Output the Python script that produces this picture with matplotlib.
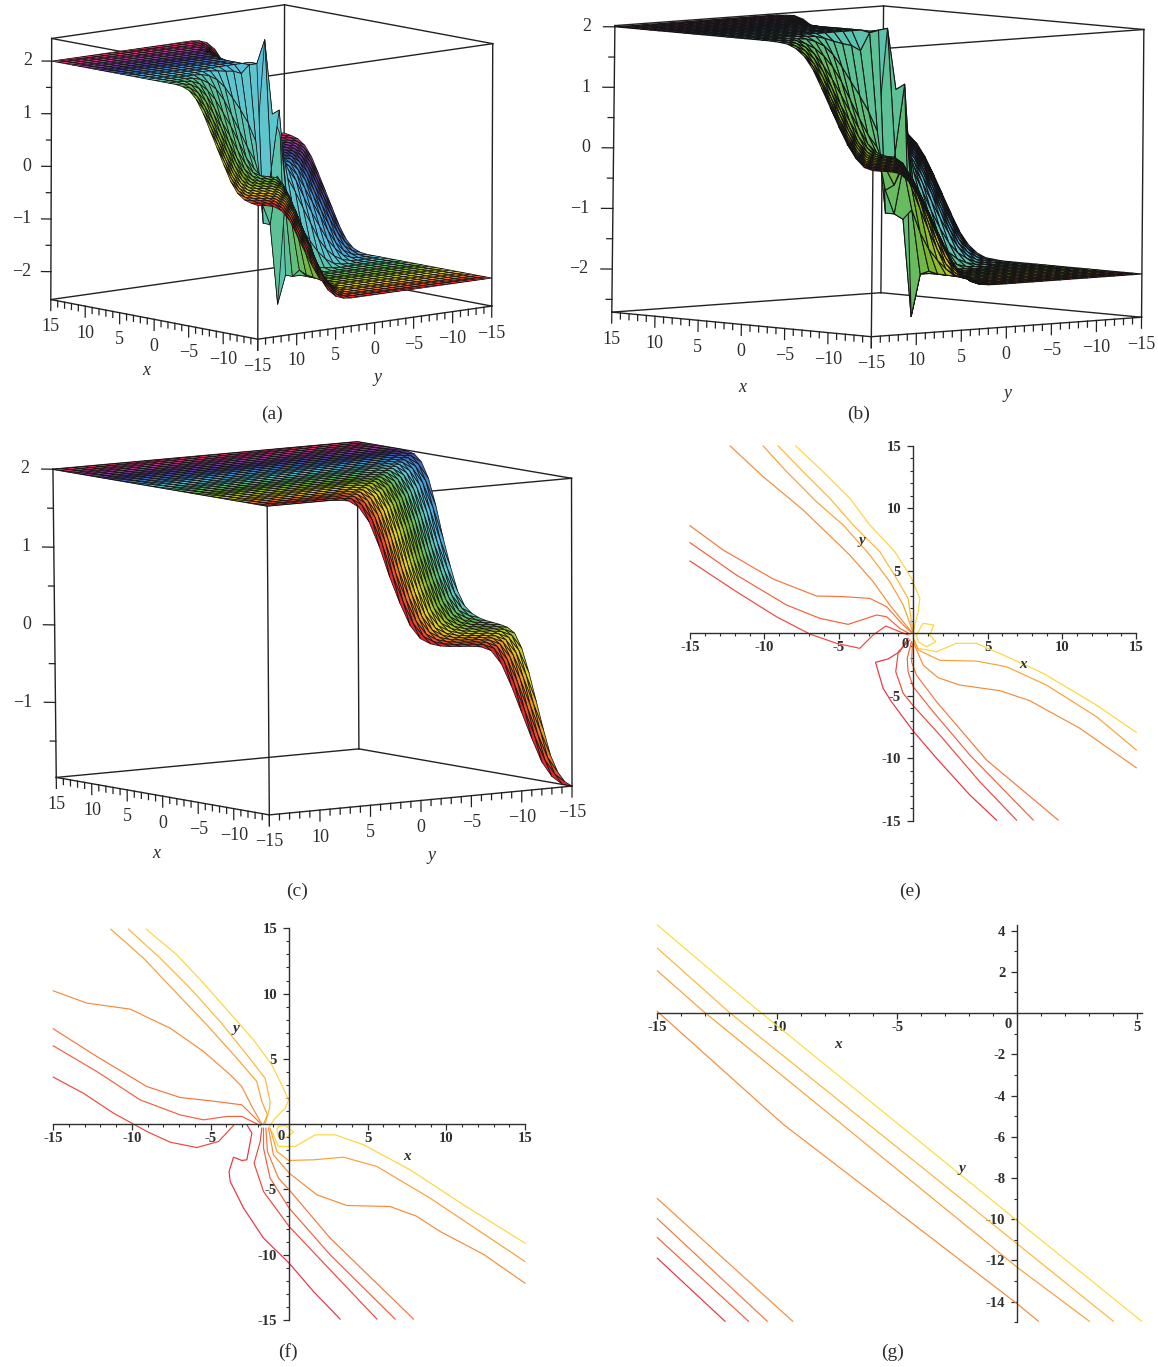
import numpy as np
import matplotlib
matplotlib.use("Agg")
import matplotlib.pyplot as plt
from matplotlib.colors import LinearSegmentedColormap

plt.rcParams['font.family'] = ['Liberation Serif', 'DejaVu Sans']
W, H = 1158, 1367
INK = '#2e2e2e'

# ---------- surface data ----------
grid_x = list(range(-15, 16))
grid_y = list(range(-15, 16))

# height against x+y, far from the singular point
a_s = [-30,-12,-11,-10,-9,-8,-7,-6,-5,-4,-3,-2,-1,0,1,2,3,4,5,6,7,8,9,10,11,12,30]
a_z = [-2.0,-2.0,-1.98,-1.92,-1.78,-1.55,-1.25,-.95,-.65,-.36,-.16,-.06,-.02,0,.02,.06,.16,.36,.65,.95,1.25,1.55,1.78,1.92,1.98,2.0,2.0]
b_s = [-30,-14,-12,-11,-10,-9,-8,-7,-6,-5,-4,-3,-2,-1,0,1,2,3,4,5,6,7,8,9,10,12,30]
b_z = [-2.0,-2.0,-1.97,-1.9,-1.78,-1.58,-1.3,-1.0,-.7,-.42,-.2,-.06,-.02,0,.02,.06,.2,.42,.7,1.0,1.3,1.58,1.78,1.9,1.97,2.0,2.0]
c_s = [-30,-29,-28,-27,-26,-25,-24,-23,-22,-21,-20,-19,-18,-17,-16,-15,-14,-13,-12,-11,-10,-9,-8,-7,-6,30]
c_z = [-1.97,-1.93,-1.82,-1.62,-1.3,-.95,-.6,-.3,-.12,-.06,-.04,-.03,-.02,0,.04,.12,.3,.6,.95,1.35,1.68,1.88,1.97,1.99,2.0,2.0]

# how far the steps close in on the singular point, against |x-y|
squeeze_u = [0,1,2,3,4,5,6,7,8,10,12,15,18,22,30]
squeeze_c = [.12,.25,.42,.5,.58,.65,.7,.74,.77,.84,.9,.94,.98,1,1]

# (x, y, z) of the mesh nodes around the spikes
a_spikes = [(1,0,2.43),(0,-1,1.1),(1,-1,1.0),(2,-2,.5),(1,-2,.6),(2,-3,.15),
            (-1,0,-2.53),(0,1,-1.0),(-1,1,-1.0),(-2,2,-.5),(-1,2,-.6),(-2,3,-.15)]
b_spikes = [(-1,0,2.02),(-2,-1,1.1),(-1,-1,1.0),(0,-2,.7),(-1,-2,.7),(0,-3,.4),(1,-4,.1),
            (-3,-1,-2.71),(-3,0,-1.1),(-3,1,-1.0),(-4,2,-.5),(-2,1,-1.0),(-3,2,-.6),(-4,3,-.2)]
b_centre = (-2, 0)

# axis labels of 3D panels
xy_ticks = [15,10,5,0,-5,-10,-15]

# ---------- contour data ----------
e1 = ([-7.89,-6.05,-4.26,-2.91,-1.23,-.11,.45,.34,.11,0],[15,12.94,10.81,8.67,6.54,4.4,2.8,1.73,.67,0])
e1b = ([.22,.67,1.39,1.12,1.52,.9,.34,.22],[-.13,.8,.67,-.13,-.67,-1.07,-.67,-.13])
e1c = ([0,.34,1.57,2.91,4.26,6.05,8.74,12.32,15],[-.4,-1.2,-1.47,-.8,-.8,-1.73,-3.2,-5.74,-7.93])
e2 = ([-9.07,-7.39,-5.6,-4.03,-2.24,-1.12,-.34,-.11,0],[15,12.94,10.81,8.67,6.54,4.4,2.8,.93,0])
e3 = ([-10.08,-8.5,-6.5,-4.7,-2.91,-1.57,-.67,-.18,0],[15,12.94,10.54,8.67,6.27,4.14,2.27,.67,0])
e4 = ([-12.3,-10.08,-7.39,-4.26,-2.69,-1.57,-.67,-.11],[15,12.54,9.87,6.27,4.14,2.27,.93,.13])
e5 = ([-15,-12.77,-9.41,-6.5,-4.7,-2.91,-1.79,-.67,-.11],[8.62,6.67,4.35,2.99,2.94,2.8,2.14,.67,.08])
e6 = ([-15,-11.88,-8.51,-6.27,-4.37,-2.46,-1.79,-.9,-.22],[7.26,4.67,2.27,1.2,.72,1.47,1.33,.4,-.05])
e7 = ([-15,-11.88,-9.19,-6.95,-5.15,-3.59,-2.69,-1.84,-.9,-.34],[5.79,3.34,1.33,-.05,-.8,-1.2,-.13,.59,.13,-.13])
e8 = ([-.34,-.9,-1.68,-2.53,-2.02,-1.46,0,1.57,3.81,5.6],[-.4,-1.47,-2.05,-2.32,-4.4,-5.47,-7.82,-10,-12.94,-14.95])
e9 = ([-.22,-1,-1.17,-.67,0,1.79,4.48,6.95],[-.53,-1.47,-3.07,-4.8,-5.79,-8.14,-11.88,-14.95])
e10 = ([-.11,-.4,-.34,0,1.34,3.81,8.07],[-.67,-2,-3.07,-4.27,-6.27,-9.74,-14.95])
e11 = ([-.05,-.11,.22,1.57,4.93,9.75],[-.8,-2.27,-3.34,-5.47,-10.14,-14.95])
e12 = ([0,.67,1.68,3.14,5.83,7.84,11.2,15],[-.67,-2.54,-3.55,-4.14,-4.59,-5.39,-7.6,-10.76])
e13 = ([.05,.34,1.79,4.26,6.27,8.96,12.32,15],[-.53,-1.33,-2.16,-2.22,-2.67,-4.14,-6.67,-9.34])

f1 = ([-9.09,-7.14,-5.45,-3.96,-2.27,-1.1,-.47,-.04,-.25,-.89,-1.31],[14.93,12.97,10.8,8.76,6.46,4.54,3.01,1.86,1.23,.46,-.31])
f1b = ([-.68,-.25,.28,-.25,-.68,-.78,-.68],[-.18,-.1,-.61,-1.07,-.94,-.43,-.18])
f1c = ([-1.1,-.68,.38,1.65,2.93,4.73,7.7,11.09,15],[-.56,-1.71,-1.71,-.82,-.82,-1.58,-3.5,-6.18,-9.11])
f2 = ([-10.22,-8.2,-6.3,-4.39,-2.69,-1.53,-1.21,-1.25,-1.53],[14.93,12.71,10.42,7.86,5.31,3.52,1.74,1.22,0])
f3 = ([-11.34,-9.26,-7.36,-5.24,-3.33,-2.06,-1.74,-1.38,-1.63],[14.93,12.71,10.29,7.61,5.05,3.27,1.74,.71,0])
f4 = ([-15,-12.87,-10.11,-7.57,-5.45,-3.75,-3.01,-2.37,-1.74],[10.21,9.27,8.81,7.35,5.57,3.78,2.88,1.35,0])
f5 = ([-15,-12.23,-9.05,-6.93,-5.02,-3.01,-1.84],[7.3,5.18,2.88,2.04,1.79,1.48,.08])
f6 = ([-15,-12.23,-9.48,-6.93,-5.45,-3.96,-3.01,-1.84],[6,4.03,1.86,.71,.33,.59,.59,-.1])
f7 = ([-15,-13.09,-11.17,-9.05,-7.57,-5.87,-4.49,-3.54],[3.6,2.37,.84,-.56,-1.38,-1.79,-1.33,-.1])
f8 = ([-2.69,-2.37,-2.69,-3.01,-3.54,-3.82,-3.75,-2.9,-1.63,0,1.55,3.24],[-.05,-.69,-2.73,-2.78,-2.53,-3.63,-4.39,-6.43,-8.73,-10.65,-12.82,-14.93])
f9 = ([-1.74,-1.84,-2.23,-1.63,0,2.61,5.58],[-.31,-1.33,-2.99,-5.16,-7.84,-11.16,-14.93])
f10 = ([-1.63,-1.63,-1.21,0,2.61,6.74],[-.31,-1.84,-4.14,-6.43,-10.01,-14.93])
f11 = ([-1.48,-1.38,-.68,0,2.61,7.91],[-.31,-2.09,-4.14,-5.03,-8.73,-14.93])
f12 = ([-1.31,-1,0,1.76,3.67,6.42,8.1,9.6,12.4,15],[-.31,-2.35,-3.75,-5.41,-6.23,-6.31,-7.05,-8.22,-10,-12.18])
f13 = ([-1.21,-.78,-.04,1.55,3.46,5.58,8.97,15],[-.31,-2.09,-2.78,-2.73,-2.53,-3.24,-5.67,-10.52])

g1 = ([-15,-11,0,5.18],[4.27,.32,-10.08,-14.95])
g2 = ([-15,-11.97,0,4],[3.15,0,-11.2,-14.95])
g3 = ([-15,-13.08,0,3],[2.05,.08,-12.34,-14.95])
g4 = ([-15,-9.75,0,.88],[.08,-5.4,-14.11,-14.95])
g5 = ([-15,-9.36],[-9,-14.95])
g6 = ([-15,-10.42],[-9.97,-14.95])
g7 = ([-15,-11.2],[-10.89,-14.95])
g8 = ([-15,-12.18],[-11.89,-14.95])

YEL, YOR, ORA, OR2, ROR, RD1, RD2, RD3 = '#fdd53a','#fbb733','#f9a034','#f68c38','#f5763c','#f2603c','#ee483c','#e9323f'
e_lines = [(e1,YEL),(e1b,YEL),(e1c,YEL),(e2,YOR),(e3,ORA),(e4,OR2),(e5,ROR),(e6,RD1),(e7,RD2),
           (e8,RD3),(e9,RD2),(e10,RD1),(e11,ROR),(e12,OR2),(e13,ORA)]
f_lines = [(f1,YEL),(f1b,YEL),(f1c,YEL),(f2,YOR),(f3,ORA),(f4,OR2),(f5,ROR),(f6,RD1),(f7,RD2),
           (f8,RD3),(f9,RD2),(f10,RD1),(f11,ROR),(f12,OR2),(f13,ORA)]
g_lines = [(g1,'#fbdc3c'),(g2,YOR),(g3,ORA),(g4,OR2),(g5,OR2),(g6,ROR),(g7,RD1),(g8,RD3)]

fig = plt.figure(figsize=(W/100, H/100), dpi=100, facecolor='white')
hue = LinearSegmentedColormap.from_list('maple', [
    (0,'#e8262a'),(.08,'#f08a24'),(.17,'#e3d51e'),(.3,'#79b52c'),(.42,'#5cc08a'),(.52,'#5ec6de'),
    (.62,'#3f8fd8'),(.72,'#4a3fa0'),(.82,'#8a3fa0'),(.92,'#d0357f'),(1,'#e0283a')])


def fit_view(ax, box, corners, L, T, S):
    """Camera of the 3D axes, calibrated on where the eight box corners lie in the figure."""
    rows, rhs = [], []
    for (X, Y, Z), (u, v) in zip(box, corners):
        rows.append([X,Y,Z,1,0,0,0,0,-u*X,-u*Y,-u*Z]); rhs.append(u)
        rows.append([0,0,0,0,X,Y,Z,1,-v*X,-v*Y,-v*Z]); rhs.append(v)
    p = np.linalg.lstsq(np.array(rows, float), np.array(rhs, float), rcond=None)[0]
    P = np.append(p, 1.0).reshape(3, 4)
    vx0, vx1 = ax.viewLim.intervalx
    vy0, vy1 = ax.viewLim.intervaly
    sx, sy = (vx1-vx0)/S, -(vy1-vy0)/S
    tx, ty = vx0 - L*sx, vy0 - (T+S)*sy
    M = np.array([sx*P[0]+tx*P[2], sy*P[1]+ty*P[2], [.69,-.69,-1.0,-60.0], P[2]])
    ax.get_proj = lambda: M

    def to_fig(x, y, z):
        h = P @ np.array([x, y, z, 1.0])
        return h[0]/h[2]/W, 1-h[1]/h[2]/H
    return to_fig


def panel3d(Z, zlim, corners, zstep_ticks, z_px, name_pos, edge_lw):
    zmin, zmax = zlim
    box = [(15,15,zmin),(-15,15,zmin),(-15,-15,zmin),(15,-15,zmin),
           (15,15,zmax),(-15,15,zmax),(-15,-15,zmax),(15,-15,zmax)]
    cx = np.mean([c[0] for c in corners]); cy = np.mean([c[1] for c in corners])
    S = 660.0
    L, T = cx-S/2, cy-S/2
    ax = fig.add_axes([L/W, 1-(T+S)/H, S/W, S/H], projection='3d', computed_zorder=False)
    ax.set_axis_off()
    ax.patch.set_visible(False)
    to_fig = fit_view(ax, box, corners, L, T, S)

    for i, j in [(0,1),(1,2),(2,3),(3,0),(4,5),(5,6),(6,7),(7,4),(0,4),(1,5),(2,6),(3,7)]:
        ax.plot(*zip(box[i], box[j]), color='#222222', lw=1.0, zorder=1)
    X, Y = np.meshgrid(grid_x, grid_y)
    ax.plot_surface(X, Y, Z, facecolors=hue((X+15)/30.0), rstride=1, cstride=1, shade=False,
                    edgecolor='#141414', linewidth=edge_lw, antialiased=True, zorder=2)
    maj, mnr = 11/z_px, 6/z_px
    for t in range(-15, 16):
        ln = maj if t % 5 == 0 else mnr
        ax.plot([t,t],[15,15],[zmin,zmin-ln], color='#222222', lw=.9, zorder=1)
        ax.plot([-15,-15],[t,t],[zmin,zmin-ln], color='#222222', lw=.9, zorder=1)
    drop = 27/z_px
    for t in xy_ticks:
        lab = str(t).replace('-', '\u2212')
        fig.text(*to_fig(t, 15, zmin-drop), lab, ha='center', va='center', fontsize=13, color=INK)
        if t != 15:
            fig.text(*to_fig(-15, t, zmin-drop), lab, ha='center', va='center', fontsize=13, color=INK)
    for zv, major in zstep_ticks:
        d = .65 if major else .33
        ax.plot([15,15+d],[15,15+d],[zv,zv], color='#222222', lw=.9, zorder=1)
        if major:
            fig.text(*to_fig(15+1.35, 15+1.35, zv), str(zv).replace('-', '\u2212'), ha='right', va='center',
                     fontsize=13, color=INK)
    for txt, (px, py) in name_pos.items():
        fig.text(px/W, 1-py/H, txt, ha='center', va='center', fontsize=13, style='italic', color=INK)
    return ax


xv, yv = np.meshgrid(grid_x, grid_y)
cu = np.interp(np.abs(xv-yv), squeeze_u, squeeze_c)
Za = np.interp((xv+yv)/cu, a_s, a_z)
for sx_, sy_, sz_ in a_spikes:
    Za[grid_y.index(sy_), grid_x.index(sx_)] = sz_
cb = np.interp(np.abs((xv-b_centre[0])-(yv-b_centre[1])), squeeze_u, squeeze_c)
bs0 = b_centre[0]+b_centre[1]
Zb = np.interp(bs0+((xv+yv)-bs0)/cb, b_s, b_z)
for sx_, sy_, sz_ in b_spikes:
    Zb[grid_y.index(sy_), grid_x.index(sx_)] = sz_
Zc = np.interp(xv+yv, c_s, c_z)

zt_ab = [(2,True),(1.5,False),(1,True),(.5,False),(0,True),(-.5,False),(-1,True),(-1.5,False),(-2,True)]
panel3d(Za, (-2.53,2.43),
        [(50.7,299.3),(258.3,339.3),(491.7,306),(283.3,266.7),(51.7,38.3),(258.3,77.7),(492.7,43.3),(285,5)],
        zt_ab, 52.7, {'x':(146,370),'y':(378,377)}, 0.55)
panel3d(Zb, (-2.71,2.02),
        [(611.7,312.7),(872.4,336.7),(1141.5,316.7),(880,292.7),(615.6,25),(872.4,49.3),(1144.5,30),(883.9,6)],
        zt_ab+[(-2.5,False)], 60.8, {'x':(742,387),'y':(1007,393)}, 0.75)
panel3d(Zc, (-1.97,2.0),
        [(56.5,777.3),(269.2,815),(572.3,786),(358.5,749),(52.7,469.3),(267.3,506),(571.2,478.3),(357.7,441.7)],
        [(2,True),(1.5,False),(1,True),(.5,False),(0,True),(-.5,False),(-1,True),(-1.5,False)], 77.5,
        {'x':(156,853),'y':(432,855)}, 0.55)


def panel2d(lines, rect, xlim, ylim, xmaj, ymaj, zero, xlab, ylab):
    x0, x1, y0, y1 = rect
    ax = fig.add_axes([x0/W, 1-y1/H, (x1-x0)/W, (y1-y0)/H])
    ax.patch.set_alpha(0)
    for (lx, ly), col in lines:
        ax.plot(lx, ly, color=col, lw=.85, solid_joinstyle='round', clip_on=False)
    ax.set_xlim(*xlim); ax.set_ylim(*ylim)
    for s in ('top','right'):
        ax.spines[s].set_visible(False)
    ax.spines['bottom'].set_position(('data',0)); ax.spines['left'].set_position(('data',0))
    for s in ('bottom','left'):
        ax.spines[s].set_linewidth(1.0); ax.spines[s].set_color(INK)
    ax.set_xticks(xmaj); ax.set_yticks(ymaj)
    ax.set_xticklabels([str(v) for v in xmaj]); ax.set_yticklabels([str(v) for v in ymaj])
    ax.set_xticks(np.arange(np.ceil(xlim[0]), xlim[1]+.01, 1), minor=True)
    ax.set_yticks(np.arange(np.ceil(ylim[0]), ylim[1]+.01, 1), minor=True)
    ax.tick_params(which='major', length=4.2, width=.9, color=INK)
    ax.tick_params(which='minor', length=2.2, width=.8, color=INK)
    ax.tick_params(axis='x', which='major', pad=1.5, labelsize=10.5, labelcolor=INK)
    ax.tick_params(axis='y', which='major', pad=4.5, labelsize=10.5, labelcolor=INK)
    for t in ax.get_xticklabels()+ax.get_yticklabels():
        t.set_fontweight('bold')
    ax.text(*zero, '0', ha='center', va='center', fontsize=10.5, fontweight='bold', color=INK)
    ax.text(*xlab, 'x', ha='center', va='center', fontsize=11, fontweight='bold', style='italic', color=INK)
    ax.text(*ylab, 'y', ha='center', va='center', fontsize=11, fontweight='bold', style='italic', color=INK)


t5 = [-15,-10,-5,5,10,15]
panel2d(e_lines, (690,1136.3,446,820.7), (-15,15), (-15,15), t5, t5, (-.52,-.93), (7.4,-2.5), (-3.45,7.4))
panel2d(f_lines, (53.3,525,928.3,1320), (-15,15), (-15,15), t5, t5, (-.53,-.94), (7.48,-2.48), (-3.37,7.35))
panel2d(g_lines, (657.3,1141.7,925,1322.3), (-15,5.18), (-15,4.27), [-15,-10,-5,5],
        [4,2,-2,-4,-6,-8,-10,-12,-14], (-.375,-.56), (-7.47,-1.53), (-2.32,-7.53))

caps = {'(a)':(272,414),'(b)':(859,414),'(c)':(297,891),'(e)':(910,891),'(f)':(288,1352),'(g)':(893,1352)}
for c, (px, py) in caps.items():
    fig.text(px/W, 1-py/H, c, ha='center', va='center', fontsize=14, color=INK)

fig.savefig('out.png', dpi=100)
